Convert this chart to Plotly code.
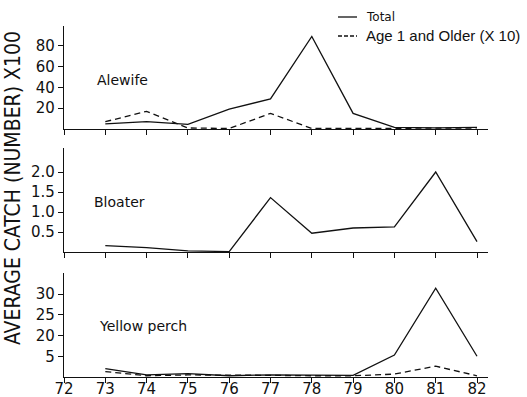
import plotly.graph_objects as go

W, H = 527, 397

years = [73, 74, 75, 76, 77, 78, 79, 80, 81, 82]

alewife_total = [5, 7, 4.5, 19, 29, 89, 15, 1.5, 1, 1.5]
alewife_age1 = [7, 17, 1, 0.5, 15, 0.5, 0.5, 0.5, 0.5, 1]

bloater_total = [0.16, 0.11, 0.03, 0.01, 1.36, 0.47, 0.6, 0.63, 2.0, 0.26]

perch_total = [2, 0.5, 0.8, 0.3, 0.5, 0.4, 0.4, 5.3, 21.4, 5]
perch_age1 = [1.3, 0.3, 0.5, 0.5, 0.4, 0.3, 0.3, 0.7, 2.6, 0.3]

x_ticks = [72, 73, 74, 75, 76, 77, 78, 79, 80, 81, 82]
alewife_ticks = [20, 40, 60, 80]
bloater_ticks = [0.5, 1.0, 1.5, 2.0]
bloater_ticktext = ["0.5", "1.0", "1.5", "2.0"]
perch_ticks = [5, 10, 15, 20]
perch_ticktext = ["5", "20", "25", "30"]

species = ["Alewife", "Bloater", "Yellow perch"]
y_title = "AVERAGE CATCH (NUMBER) X100"
legend_labels = ["Total", "Age 1 and Older (X 10)"]


def px(x):
    return x / W


def py(y):
    return 1 - y / H


FONT = "DejaVu Sans"
BLACK = "#111111"

fig = go.Figure()

line_solid = dict(color=BLACK, width=1.3)
line_dash = dict(color=BLACK, width=1.3, dash="6px,4px")

fig.add_trace(go.Scatter(x=years, y=alewife_total, mode="lines", line=line_solid, xaxis="x", yaxis="y"))
fig.add_trace(go.Scatter(x=years, y=alewife_age1, mode="lines", line=line_dash, xaxis="x", yaxis="y"))
fig.add_trace(go.Scatter(x=years, y=bloater_total, mode="lines", line=line_solid, xaxis="x2", yaxis="y2"))
fig.add_trace(go.Scatter(x=years, y=perch_total, mode="lines", line=line_solid, xaxis="x3", yaxis="y3"))
fig.add_trace(go.Scatter(x=years, y=perch_age1, mode="lines", line=line_dash, xaxis="x3", yaxis="y3"))

xdom = [px(64), px(488)]
xrange_ = [72, 72 + (488 - 64) / 41.3]

common_x = dict(
    domain=xdom, range=xrange_, tickvals=x_ticks, showgrid=False, zeroline=False,
    showline=True, linecolor=BLACK, linewidth=1.2, ticks="outside", ticklen=5,
    tickwidth=1, tickcolor=BLACK, tickfont=dict(family=FONT, size=15, color=BLACK),
    automargin=False,
)
common_y = dict(
    showgrid=False, zeroline=False, showline=True, linecolor=BLACK, linewidth=1.2,
    ticks="outside", ticklen=5, tickwidth=1, tickcolor=BLACK,
    tickfont=dict(family=FONT, size=15, color=BLACK), automargin=False,
)

layout = dict(
    width=W, height=H, margin=dict(l=0, r=0, t=0, b=0, pad=0, autoexpand=False),
    paper_bgcolor="white", plot_bgcolor="white", showlegend=False,
    xaxis=dict(common_x, anchor="y", showticklabels=False),
    xaxis2=dict(common_x, anchor="y2", showticklabels=False),
    xaxis3=dict(common_x, anchor="y3", showticklabels=True, ticklabelstandoff=-7),
    yaxis=dict(common_y, anchor="x", domain=[py(129), py(26)], range=[0, (129 - 26) / 1.04],
               tickvals=alewife_ticks),
    yaxis2=dict(common_y, anchor="x2", domain=[py(252), py(148)], range=[0, (252 - 148) / 40],
                tickvals=bloater_ticks, ticktext=bloater_ticktext),
    yaxis3=dict(common_y, anchor="x3", domain=[py(377), py(273)], range=[0, (377 - 273) / 4.15],
                tickvals=perch_ticks, ticktext=perch_ticktext),
)
fig.update_layout(**layout)

annotations = []
label_pos = [(95, 80), (92, 202), (97, 326)]
for name, (lx, ly) in zip(species, label_pos):
    annotations.append(dict(x=px(lx), y=py(ly), xref="paper", yref="paper", text=name,
                            showarrow=False, xanchor="left", yanchor="middle",
                            font=dict(family=FONT, size=14, color=BLACK)))

annotations.append(dict(x=px(13), y=py(188), xref="paper", yref="paper", text=y_title,
                        showarrow=False, textangle=-90, xanchor="center", yanchor="middle",
                        font=dict(family="DejaVu Sans Condensed, Liberation Sans Narrow, Liberation Sans",
                                  size=21, color=BLACK)))

annotations.append(dict(x=px(364), y=py(17), xref="paper", yref="paper", text=legend_labels[0],
                        showarrow=False, xanchor="left", yanchor="middle",
                        font=dict(family=FONT, size=12, color=BLACK)))
annotations.append(dict(x=px(364), y=py(36), xref="paper", yref="paper", text=legend_labels[1],
                        showarrow=False, xanchor="left", yanchor="middle",
                        font=dict(family="Liberation Sans", size=15, color=BLACK)))
fig.update_layout(annotations=annotations)

fig.add_shape(type="line", xref="paper", yref="paper", x0=px(338), x1=px(357), y0=py(17), y1=py(17),
              line=dict(color=BLACK, width=1.3))
fig.add_shape(type="line", xref="paper", yref="paper", x0=px(338), x1=px(357), y0=py(36), y1=py(36),
              line=dict(color=BLACK, width=1.3, dash="4px,2px"))

fig.write_html("out.html", config={"displayModeBar": False},
               post_script="document.body.style.margin='0';document.body.style.overflow='hidden';")
